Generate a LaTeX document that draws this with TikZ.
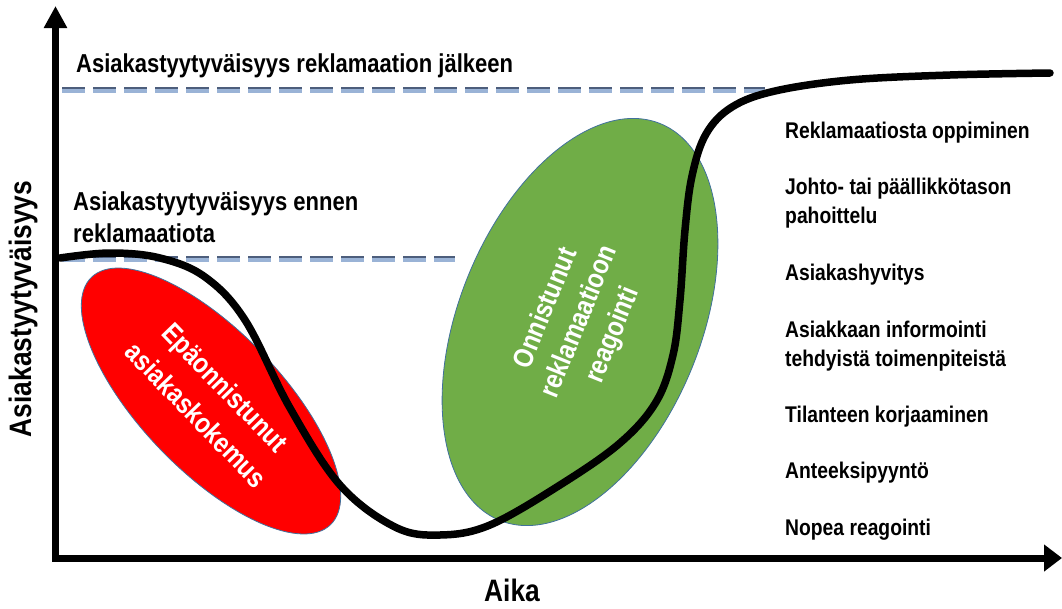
\documentclass[tikz,border=0pt]{standalone}
\usepackage{fontspec}
\newfontfamily\nar[FakeStretch=0.85]{Liberation Sans}
\usetikzlibrary{arrows.meta,shapes.geometric}
\definecolor{failred}{HTML}{FF0000}
\definecolor{okgreen}{HTML}{70AD47}
\definecolor{rimblue}{HTML}{41719C}
\definecolor{dashlight}{HTML}{9AB3D6}
\definecolor{dashdark}{HTML}{4D5E7C}
\begin{document}
\begin{tikzpicture}[x=1pt,y=-1pt,
  lbl/.style={inner sep=0pt, anchor=base west, align=left},
  biglbl/.style={lbl, font=\nar\bfseries\fontsize{25.9}{32}\selectfont},
  steplbl/.style={lbl, font=\nar\bfseries\fontsize{22.7}{28.5}\selectfont},
  axislbl/.style={inner sep=0pt, font=\nar\bfseries\fontsize{31}{36}\selectfont},
  blob/.style={ellipse, draw=rimblue, line width=0.8pt, inner sep=0pt,
    text=white, align=center, font=\nar\bfseries\fontsize{28}{34}\selectfont},
  levelline/.style={dashlight, line width=5pt, dash pattern=on 23pt off 8pt},
  levelrim/.style={dashdark, line width=1.6pt, dash pattern=on 23pt off 8pt},
  satcurve/.style={line width=7.5pt, line cap=round, line join=round},
  axisline/.style={line width=7pt, line join=miter,
    {Triangle[length=22pt,width=22pt]}-{Triangle[length=18pt,width=26pt]}}
]
\useasboundingbox (0,0) rectangle (1062,608);

% axis corner and tips
\coordinate (O) at (55.5,558);
\coordinate (ytop) at (55.5,6);
\coordinate (xend) at (1062,558);

% satisfaction levels
\coordinate (after0) at (62,90);
\coordinate (after1) at (765,90);
\coordinate (before0) at (62,259);
\coordinate (before1) at (455,259);
\draw[levelline] (after0) -- (after1);
\draw[levelrim] ([yshift=2.3pt]after0) -- ([yshift=2.3pt]after1);
\draw[levelline] (before0) -- (before1);
\draw[levelrim] ([yshift=2.3pt]before0) -- ([yshift=2.3pt]before1);

% phases
\node[blob, fill=failred, minimum width=344pt, minimum height=140pt, rotate=-46]
  (fail) at (211,401) {Epäonnistunut\\[6pt]asiakaskokemus};
\node[blob, fill=okgreen, minimum width=428pt, minimum height=242pt, rotate=68]
  (good) at (580,322) {Onnistunut\\[2pt]reklamaatioon\\[2pt]reagointi};

% satisfaction over time
\draw[satcurve] plot[smooth, tension=0.6] coordinates {
  (60,258) (110,253) (160,258) (205,277) (245,320) (290,408) (340,485)
  (395,527) (440,535) (490,525) (560,485) (620,443) (656,402) (673,355)
  (680,300) (685,230) (692,176) (706,134) (732,107) (775,91) (850,80)
  (950,75) (1050,73)};

% axes
\draw[axisline] (ytop) -- (O) -- (xend);

% level labels (base anchor sits on the last line)
\node[biglbl] (afterlbl) at (76,72) {Asiakastyytyväisyys reklamaation jälkeen};
\node[biglbl] (beforelbl) at (73,242) {Asiakastyytyväisyys ennen\\reklamaatiota};

% actions
\node[steplbl] (s7) at (785,138) {Reklamaatiosta oppiminen};
\node[steplbl] (s6) at (785,223) {Johto- tai päällikkötason\\pahoittelu};
\node[steplbl] (s5) at (785,280) {Asiakashyvitys};
\node[steplbl] (s4) at (785,366) {Asiakkaan informointi\\tehdyistä toimenpiteistä};
\node[steplbl] (s3) at (785,422) {Tilanteen korjaaminen};
\node[steplbl] (s2) at (785,478) {Anteeksipyyntö};
\node[steplbl] (s1) at (785,535) {Nopea reagointi};

% axis titles
\node[axislbl, rotate=90] (ylab) at (23,309) {Asiakastyytyväisyys};
\node[axislbl] (xlab) at (512,590) {Aika};
\end{tikzpicture}
\end{document}
